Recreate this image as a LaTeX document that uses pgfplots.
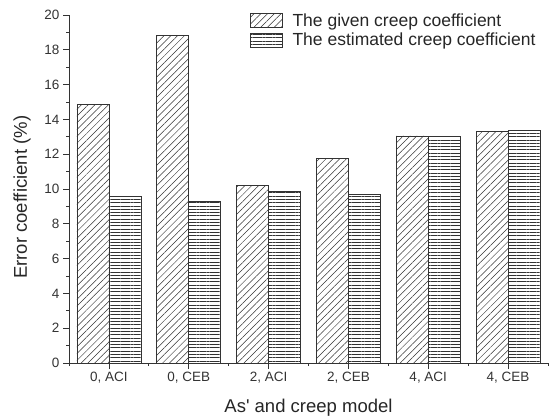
\documentclass[border=0pt]{standalone}
\usepackage{fontspec}
\setmainfont{Liberation Sans}
\usepackage{pgfplots}
\pgfplotsset{compat=1.18}
\usetikzlibrary{patterns.meta}
\begin{document}
\begin{tikzpicture}
\begin{axis}[
  scale only axis, width=479pt, height=348pt,
  xmin=0.5, xmax=6.5, ymin=0, ymax=20,
  axis x line*=bottom, axis y line*=left,
  axis line style={-, line width=0.8pt, black!80},
  ybar=0pt, bar width=0.4,
  xtick={1,2,3,4,5,6},
  xticklabels={{0, ACI},{0, CEB},{2, ACI},{2, CEB},{4, ACI},{4, CEB}},
  minor xtick={0.5,1.5,2.5,3.5,4.5,5.5,6.5},
  ytick={0,2,...,20}, minor ytick={1,3,...,19},
  tick align=outside, major tick length=6pt, minor tick length=3pt,
  tick style={black!80, line width=0.8pt},
  /pgf/number format/assume math mode=true,
  tick label style={font=\fontsize{13.5}{16}\selectfont, text=black!80},
  xlabel={As\textquotesingle{} and creep model},
  ylabel={Error coefficient (\%)},
  label style={font=\fontsize{18.5}{22}\selectfont, text=black!85},
  xlabel style={at={(axis description cs:0.5,-0.129)}, anchor=center},
  ylabel style={at={(axis description cs:-0.098,0.476)}, anchor=center},
  legend style={draw=none, fill=none, at={(0.375,1.013)}, anchor=north west,
    font=\fontsize{17.5}{20}\selectfont, text=black!85, row sep=1pt,
    inner sep=1pt, /tikz/every odd column/.append style={column sep=8pt}},
  legend cell align=left,
  legend image code/.code={\draw[#1] (0pt,-7pt) rectangle (32pt,7pt);},
]
\addplot[draw=black!80, line width=0.7pt,
  pattern={Lines[angle=45,distance=4.8pt,line width=0.5pt]}, pattern color=black!80]
  coordinates {(1,14.87) (2,18.81) (3,10.19) (4,11.76) (5,13.05) (6,13.29)};
\addplot[draw=black!80, line width=0.7pt,
  pattern={Lines[angle=0,distance=3.3pt,line width=0.5pt]}, pattern color=black!80]
  coordinates {(1,9.56) (2,9.27) (3,9.87) (4,9.69) (5,13.01) (6,13.35)};
\legend{The given creep coefficient, The estimated creep coefficient}
\end{axis}
\pgfresetboundingbox
\path[use as bounding box] (-69pt,-54pt) rectangle (484pt,363pt);
\end{tikzpicture}
\end{document}
